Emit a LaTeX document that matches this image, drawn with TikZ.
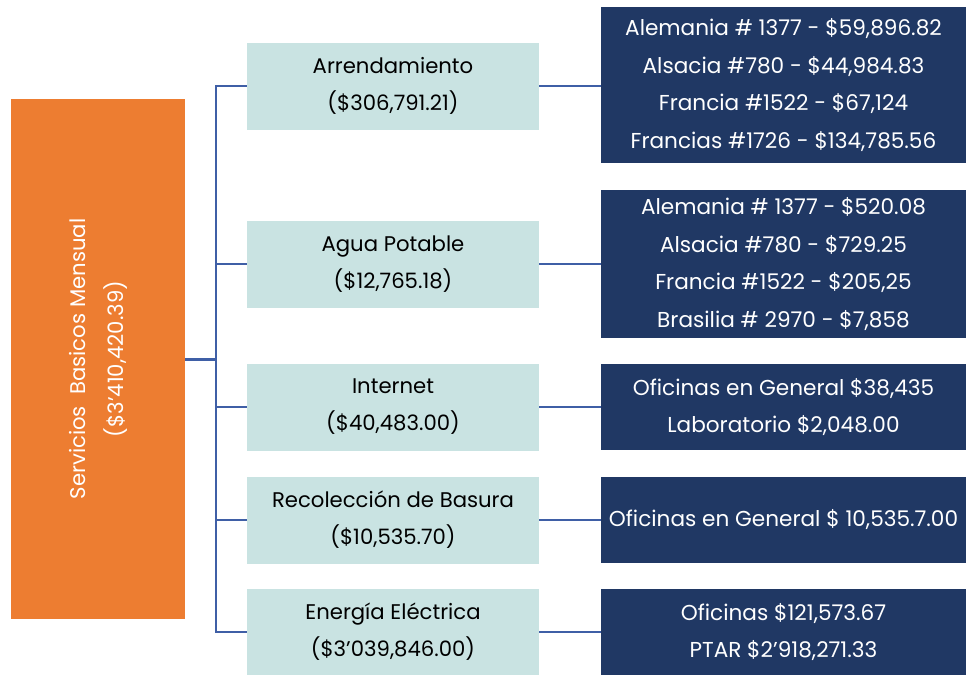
\documentclass[tikz,border=0pt]{standalone}
\usepackage{fontspec}
\setmainfont{Poppins}
\usetikzlibrary{positioning}

\definecolor{naranja}{HTML}{ED7D31}
\definecolor{celeste}{HTML}{C9E3E2}
\definecolor{marino}{HTML}{203864}
\definecolor{linea}{HTML}{3F5FA6}

\begin{document}
\begin{tikzpicture}[x=0.5pt, y=-0.5pt,
		rubro/.style={fill=celeste, inner sep=0pt, minimum width=146pt, minimum height=43.5pt,
			align=center, font=\fontsize{10.6}{18.5}\selectfont},
		detalle/.style={fill=marino, text=white, inner sep=0pt, minimum width=182.5pt,
			align=center, font=\fontsize{10.8}{18.7}\selectfont},
		conector/.style={draw=linea, line width=1pt}]
		\useasboundingbox (0, 0) rectangle (966, 675);
		
		% total
		\node[fill=naranja, text=white, rotate=90, inner sep=0pt, minimum width=260pt, minimum height=87pt,
			align=center, font=\fontsize{10.6}{19}\selectfont] (ser) at (98, 359)
			{Servicios \ Basicos Mensual\\(\$3'410,420.39)};
		
		% rubros
		\node[rubro] (arr) at (393, 86) {Arrendamiento\\(\$306,791.21)};
		\node[rubro] (agua) at (393, 264) {Agua Potable\\(\$12,765.18)};
		\node[rubro] (inter) at (393, 407) {Internet\\(\$40,483.00)};
		\node[rubro] (basura) at (393, 520) {Recolección de Basura\\(\$10,535.70)};
		\node[rubro] (luz) at (393, 632) {Energía Eléctrica\\(\$3'039,846.00)};
		
		% detalle
		\node[detalle, minimum height=78pt] (d1) at (783.5, 85)
			{Alemania \# 1377 - \$59,896.82\\Alsacia \#780 - \$44,984.83\\Francia \#1522 - \$67,124\\Francias \#1726 - \$134,785.56};
		\node[detalle, minimum height=74pt] (d2) at (783.5, 264)
			{Alemania \# 1377 - \$520.08\\Alsacia \#780 - \$729.25\\Francia \#1522 - \$205,25\\Brasilia \# 2970 - \$7,858};
		\node[detalle, minimum height=43pt] (d3) at (783.5, 407)
			{Oficinas en General \$38,435\\Laboratorio \$2,048.00};
		\node[detalle, minimum height=43pt] (d4) at (783.5, 520)
			{Oficinas en General \$ 10,535.7.00};
		\node[detalle, minimum height=43pt] (d5) at (783.5, 632)
			{Oficinas \$121,573.67\\PTAR \$2'918,271.33};
		
		% conectores
		\coordinate (bus) at (216, 359);
		\draw[conector, line width=1.5pt] (ser.south) -- (bus);
		\foreach \r/\d in {arr/d1, agua/d2, inter/d3, basura/d4, luz/d5} {
			\draw[conector] (bus) |- (\r.west);
			\draw[conector] (\r.east) -- (\r.east -| \d.west);
		}
		
	\end{tikzpicture}
\end{document}
